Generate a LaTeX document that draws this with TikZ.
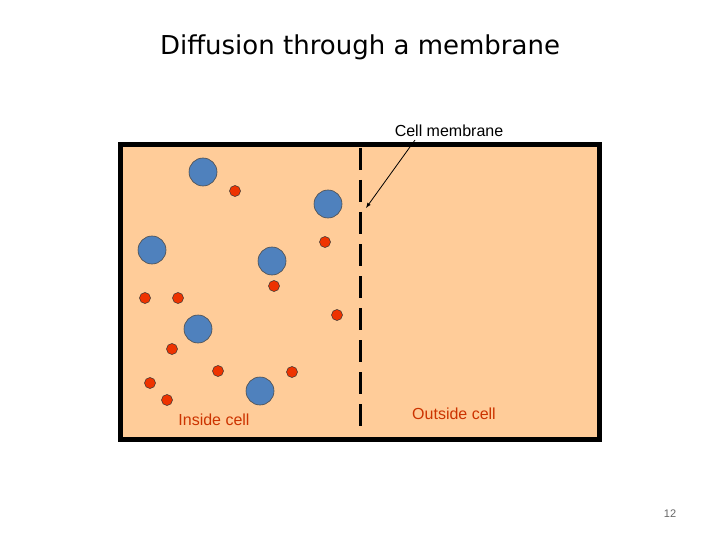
\documentclass[tikz,border=0pt]{standalone}
\usepackage{fontspec}
\setmainfont{Liberation Sans}
\newfontfamily\titlefont{DejaVu Sans}
\begin{document}
\begin{tikzpicture}[x=1pt,y=-1pt,
  big/.style={circle,draw=black!70,line width=0.6pt,minimum size=28pt,inner sep=0pt},
  small/.style={circle,draw=black!80,line width=0.5pt,minimum size=11pt,inner sep=0pt}]
\useasboundingbox (0,0) rectangle (720,540);
\definecolor{peach}{HTML}{FFCC99}
\definecolor{bl}{HTML}{4F81BD}
\definecolor{rd}{HTML}{EE3300}
\definecolor{lab}{HTML}{CC3300}
\tikzset{big/.append style={fill=bl},small/.append style={fill=rd}}
\node (title) at (360,47) {\titlefont\fontsize{26}{30}\selectfont Diffusion through a membrane};
\draw[line width=5pt,fill=peach] (120,145) rectangle (599,439);
\draw[line width=3pt,dash pattern=on 22pt off 10pt] (360,148) -- (360,436);
\foreach \p/\n in {{203,172}/b1,{328,204}/b2,{152,250}/b3,{272,261}/b4,{198,329}/b5,{260,391}/b6}
  \node[big] (\n) at (\p) {};
\foreach \p/\n in {{235,191}/r1,{325,242}/r2,{145,298}/r3,{178,298}/r4,{274,286}/r5,{337,315}/r6,{172,349}/r7,{218,371}/r8,{292,372}/r9,{150,383}/r10,{167,400}/r11}
  \node[small] (\n) at (\p) {};
\node (cm) at (449,131) {\fontsize{16}{18}\selectfont Cell membrane};
\coordinate (tip) at (366,208);
\draw[-latex,line width=0.8pt] (415,140) -- (tip);
\node[text=lab] (in) at (214,420) {\fontsize{16}{18}\selectfont Inside cell};
\node[text=lab] (out) at (454,414) {\fontsize{16}{18}\selectfont Outside cell};
\node[text=black!60] (pg) at (670,514) {\fontsize{11}{13}\selectfont 12};
\end{tikzpicture}
\end{document}
